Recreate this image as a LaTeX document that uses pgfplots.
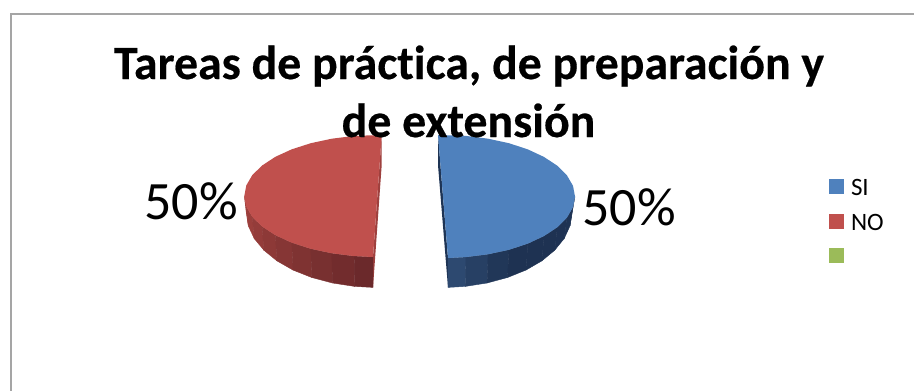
\documentclass[border=0pt]{standalone}
\usepackage{pgfplots}
\pgfplotsset{compat=1.18}
\usepackage{fontspec}
\setmainfont[Ligatures=NoCommon, BoldFeatures={FakeBold=0.4}]{Carlito}
\definecolor{siTop}{RGB}{79,129,189}
\definecolor{noTop}{RGB}{192,80,77}
\definecolor{otroTop}{RGB}{155,187,89}
\definecolor{siCut}{RGB}{30,52,84}
\definecolor{noCut}{RGB}{158,64,62}
\definecolor{marco}{RGB}{165,165,165}
\begin{document}
\begin{tikzpicture}
\useasboundingbox (0,0) rectangle (914pt,391pt);
\begin{axis}[
  at={(0,0)}, anchor=south west,
  scale only axis, width=914pt, height=391pt,
  xmin=0, xmax=914, ymin=0, ymax=391, y dir=reverse,
  hide axis,
  point meta min=0, point meta max=1,
  legend style={
    at={(axis cs:829,179)}, anchor=north west, draw=none, fill=none,
    inner sep=0pt, outer sep=0pt, row sep=18pt,
    font=\fontsize{25}{25}\selectfont,
    nodes={inner sep=0pt, outer sep=0pt, text height=15pt, text depth=0pt},
    /tikz/column 1/.style={column sep=7pt},
  },
  legend cell align=left,
  legend image code/.code={\fill[draw=none, #1] (0pt,-6pt) rectangle (15pt,9pt);},
]

% chart area border
\addplot[marco, line width=2pt, forget plot] coordinates {(10.5,400) (10.5,13.5) (930,13.5)};

% SI, 50%: cut face, rim and top of the slice
\addplot[fill=siCut, draw=none, forget plot] coordinates {(438,135) (438,165) (448,287.4) (448,258)} --cycle;
\addplot[surf, shader=flat, mesh/rows=2, point meta=explicit, forget plot,
  colormap={siSide}{rgb255=(48,78,118) rgb255=(30,50,82) rgb255=(30,50,82) rgb255=(30,52,85)}]
  table[x=x, y=y, meta=c] {
x y c
448 258 0
465.9 257.1 0.11
488.1 254.3 0.22
509 249.8 0.33
527.9 243.6 0.44
544.1 236 0.56
557.3 227.25 0.67
567 217.5 0.78
573 207.2 0.89
575 196.5 1
448 287.4 0
465.4 286.4 0.11
487.1 283 0.22
507.5 277.5 0.33
525.9 270.1 0.44
541.8 260.9 0.56
554.7 250.25 0.67
564.2 238.5 0.78
570 225.9 0.89
572 213 1
};
\addplot[fill=siTop, draw=none, forget plot] coordinates {
  (438,135) (465.9,135.9) (488.1,138.7) (509,143.2) (527.9,149.4) (544.1,157)
  (557.3,165.75) (567,175.5) (573,185.8) (575,196.5) (573,207.2) (567,217.5)
  (557.3,227.25) (544.1,236) (527.9,243.6) (509,249.8) (488.1,254.3) (465.9,257.1) (448,258)
} --cycle;

% NO, 50%: cut face, rim and top of the slice
\addplot[fill=noCut, draw=none, forget plot] coordinates {(381.7,135) (381.7,165) (373,287.4) (373,257)} --cycle;
\addplot[surf, shader=flat, mesh/rows=2, point meta=explicit, forget plot,
  colormap={noSide}{rgb255=(165,68,64) rgb255=(104,40,42)}]
  table[x=x, y=y, meta=c] {
x y c
244.3 196 0
246.3 206.6 0.11
252.3 216.9 0.22
262.1 226.5 0.33
275.4 235.2 0.44
291.8 242.7 0.56
310.8 248.8 0.67
331.8 253.3 0.78
354.2 256.1 0.89
373 257 1
246.3 213 0
248.3 225.9 0.11
254.2 238.5 0.22
263.9 250.25 0.33
277 260.9 0.44
293.1 270.1 0.56
311.8 277.5 0.67
332.5 283 0.78
354.6 286.4 0.89
373 287.4 1
};
\addplot[fill=noTop, draw=none, forget plot] coordinates {
  (381.7,135) (354.2,135.9) (331.8,138.7) (310.8,143.2) (291.8,149.3) (275.4,156.8)
  (262.1,165.5) (252.3,175.1) (246.3,185.4) (244.3,196) (246.3,206.6) (252.3,216.9)
  (262.1,226.5) (275.4,235.2) (291.8,242.7) (310.8,248.8) (331.8,253.3) (354.2,256.1) (373,257)
} --cycle;

% legend keys
\addlegendimage{fill=siTop}\addlegendentry{SI}
\addlegendimage{fill=noTop}\addlegendentry{NO}
\addlegendimage{fill=otroTop}\addlegendentry{}

% title and data labels
\node[anchor=base, inner sep=0pt, font=\fontsize{47.8}{47.8}\selectfont\bfseries] at (axis cs:469,79) {Tareas de práctica, de preparación y};
\node[anchor=base, inner sep=0pt, font=\fontsize{47.8}{47.8}\selectfont\bfseries] at (axis cs:468.5,137) {de extensión};
\node[anchor=base, inner sep=0pt, font=\fontsize{54}{54}\selectfont] at (axis cs:191,219) {50\%};
\node[anchor=base, inner sep=0pt, font=\fontsize{54}{54}\selectfont] at (axis cs:629,225) {50\%};
\end{axis}
\end{tikzpicture}
\end{document}
